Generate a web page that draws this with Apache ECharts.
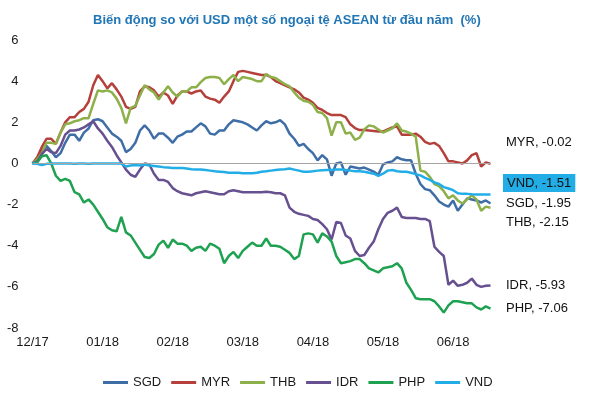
<!DOCTYPE html>
<html><head><meta charset="utf-8">
<script src="https://cdn.jsdelivr.net/npm/echarts@6/dist/echarts.min.js"></script>
<style>html,body{margin:0;padding:0;background:#fff}#c{width:600px;height:393px}</style>
</head><body><div id="c"></div>
<script>
// month tick labels (one every 15 trading-day steps)
const monthLabels = ['12/17','01/18','02/18','03/18','04/18','05/18','06/18'];
const seriesNames = ['SGD','MYR','THB','IDR','PHP','VND'];

const SGD = [0,0.1,0.6,0.85,0.6,0.3,0.5,1.0,1.4,1.4,
1.1,1.5,1.7,2.1,2.15,2.05,1.75,1.45,1.3,1.1,
0.55,0.7,1.0,1.6,1.85,1.6,1.2,1.45,1.45,1.25,
1.0,1.3,1.4,1.55,1.55,1.75,1.95,1.8,1.45,1.4,
1.6,1.6,1.9,2.1,2.05,2.0,1.9,1.75,1.6,1.85,
2.05,1.95,2.0,2.1,1.9,1.45,1.2,0.85,0.95,0.7,
0.5,0.15,0.4,0.2,-0.6,0.0,0.05,-0.55,-0.15,-0.2,
-0.25,-0.2,-0.3,-0.4,-0.55,-0.05,0.05,0.1,0.3,0.2,
0.15,0.15,-0.5,-1.0,-1.25,-1.3,-1.55,-1.85,-2.0,-2.1,
-1.8,-2.3,-2.0,-1.7,-1.75,-1.8,-1.9,-1.8,-1.95];

const MYR = [0,0.3,0.8,1.2,1.2,0.95,1.5,2.0,2.25,2.25,
2.5,2.65,3.0,3.8,4.3,4.0,3.65,3.9,3.6,3.25,
2.75,2.65,2.75,3.5,3.75,3.7,3.55,3.25,3.45,3.3,
2.9,3.3,3.5,3.5,3.4,3.5,3.55,3.25,3.15,3.1,
2.95,3.25,3.5,4.0,4.45,4.5,4.45,4.4,4.35,4.3,
4.3,4.2,4.0,3.9,3.8,3.7,3.6,3.45,3.2,3.1,
2.95,2.7,2.6,2.45,2.35,2.35,2.35,2.25,1.9,1.72,
1.62,1.62,1.6,1.58,1.55,1.55,1.65,1.75,1.8,1.4,
1.4,1.4,1.45,1.3,1.05,0.95,1.0,0.85,0.5,0.1,
0.1,0.05,0.0,0.15,0.4,0.5,-0.15,0.05,-0.02];

const THB = [0,0.2,0.5,1.0,1.0,0.95,1.5,1.9,1.95,2.05,
2.1,2.2,2.2,2.9,3.55,3.5,3.55,3.45,3.15,2.7,
1.95,2.7,2.8,3.3,3.8,3.6,3.45,3.1,3.45,3.75,
3.45,3.25,3.5,3.5,3.7,3.7,3.95,4.15,4.2,4.2,
4.15,3.85,4.1,4.3,4.0,4.2,4.15,4.1,4.0,4.0,
4.35,4.2,4.15,4.0,3.85,3.75,3.45,3.2,3.05,3.0,
2.85,2.5,2.45,2.2,1.35,2.0,2.0,1.45,1.5,1.15,
1.25,1.65,1.85,1.8,1.65,1.5,1.6,1.7,1.95,1.6,
1.55,1.45,1.3,-0.35,-0.4,-0.65,-1.0,-1.1,-1.35,-1.7,
-1.55,-1.8,-1.95,-1.75,-1.55,-1.75,-2.3,-2.1,-2.15];

const IDR = [0,0.1,0.45,0.7,0.55,0.5,0.85,1.4,1.6,1.6,
1.65,1.75,1.9,2.05,1.7,1.45,1.1,0.8,0.4,0.05,
-0.3,-0.55,-0.65,-0.3,0.0,-0.05,-0.5,-0.8,-0.8,-0.9,
-1.2,-1.35,-1.45,-1.5,-1.55,-1.45,-1.4,-1.35,-1.4,-1.45,
-1.5,-1.5,-1.35,-1.3,-1.35,-1.4,-1.4,-1.4,-1.4,-1.4,
-1.38,-1.4,-1.45,-1.45,-1.55,-2.15,-2.35,-2.45,-2.5,-2.55,
-2.7,-2.75,-2.95,-3.2,-3.7,-2.85,-2.9,-3.5,-3.65,-4.25,
-4.5,-4.45,-4.1,-3.8,-3.2,-2.7,-2.4,-2.3,-2.15,-2.6,
-2.65,-2.65,-2.65,-2.7,-2.7,-2.8,-4.05,-4.3,-4.5,-5.9,
-5.7,-5.95,-5.9,-5.8,-5.6,-5.9,-6.0,-5.95,-5.93];

const PHP = [0,0.05,0.35,0.4,0.0,-0.6,-0.85,-0.75,-0.85,-1.4,
-1.5,-1.9,-1.75,-2.0,-2.35,-2.7,-3.1,-3.25,-3.3,-2.6,
-3.35,-3.5,-3.85,-4.2,-4.55,-4.6,-4.4,-3.95,-3.75,-4.1,
-3.7,-3.9,-3.9,-4.0,-4.25,-4.1,-4.05,-4.25,-3.9,-4.0,
-4.15,-4.85,-4.5,-4.3,-4.6,-4.25,-4.05,-3.85,-4.0,-4.0,
-3.65,-4.0,-4.0,-4.05,-4.2,-4.35,-4.65,-4.5,-3.45,-3.4,
-3.45,-3.85,-3.4,-3.55,-3.8,-4.5,-4.85,-4.8,-4.75,-4.65,
-4.65,-4.85,-5.1,-5.2,-5.3,-5.1,-5.05,-5.0,-4.85,-5.1,
-5.8,-6.15,-6.55,-6.6,-6.6,-6.6,-6.7,-6.95,-7.25,-6.9,
-6.7,-6.7,-6.75,-6.8,-6.8,-7.0,-7.1,-6.95,-7.06];

const VND = [0,-0.02,-0.08,-0.02,0,0,0,0,0,-0.02,
0,0,-0.02,0,0,0,0,0,0,0,
-0.15,-0.1,-0.08,-0.1,-0.05,-0.1,-0.12,-0.15,-0.18,-0.2,
-0.22,-0.22,-0.22,-0.25,-0.28,-0.3,-0.3,-0.32,-0.35,-0.38,
-0.4,-0.42,-0.45,-0.45,-0.45,-0.48,-0.48,-0.48,-0.45,-0.4,
-0.38,-0.35,-0.32,-0.3,-0.28,-0.25,-0.3,-0.35,-0.4,-0.4,
-0.38,-0.35,-0.33,-0.32,-0.32,-0.3,-0.3,-0.32,-0.35,-0.38,
-0.38,-0.4,-0.45,-0.5,-0.6,-0.5,-0.35,-0.32,-0.38,-0.4,
-0.4,-0.45,-0.52,-0.58,-0.7,-0.8,-0.92,-1.0,-1.15,-1.22,
-1.3,-1.45,-1.48,-1.48,-1.5,-1.51,-1.51,-1.51,-1.51];

const seriesValues = [SGD, MYR, THB, IDR, PHP, VND];

// styling
const colors = {SGD:'#3f6ea7', MYR:'#b5403b', THB:'#8db04a', IDR:'#67508f', PHP:'#1ea150', VND:'#22ade6'};
const labelOffsets = {MYR:[7.5,-21], VND:[4.5,-11.5], SGD:[7.5,0], THB:[7.5,15], IDR:[7.5,0], PHP:[7.5,0]};
const FONT = 'Arial, "Liberation Sans", sans-serif';
const TXT = '#1a1a1a';

const chart = echarts.init(document.getElementById('c'), null, {renderer:'canvas'});
chart.setOption({
  animation: false,
  backgroundColor: '#fff',
  title: {
    text: 'Biến động so với USD một số ngoại tệ ASEAN từ đầu năm  (%)',
    left: 88, top: 9,
    textStyle: {fontFamily: FONT, fontSize: 13, fontWeight: 'bold', color: '#2176b5'}
  },
  legend: {
    data: seriesNames, left: 98, top: 371,
    icon: 'rect', itemWidth: 25, itemHeight: 3, itemGap: 10,
    textStyle: {fontFamily: FONT, fontSize: 13, color: TXT}
  },
  grid: {left: 32.5, top: 40, right: 109.5, bottom: 65},
  xAxis: {
    type: 'value', min: 0, max: 98, interval: 15,
    axisLine: {show: false}, axisTick: {show: false}, splitLine: {show: false},
    axisLabel: {margin: 8, fontSize: 13, color: TXT, fontFamily: FONT,
      formatter: v => (v % 15 === 0 && monthLabels[v / 15]) ? monthLabels[v / 15] : ''}
  },
  yAxis: {
    type: 'value', min: -8, max: 6, interval: 2,
    axisLine: {show: false}, axisTick: {show: false}, splitLine: {show: false},
    axisLabel: {margin: 14, fontSize: 13, color: TXT, fontFamily: FONT}
  },
  series: seriesNames.map((name, k) => {
    const s = {
      name, type: 'line', showSymbol: false, symbol: 'none',
      data: seriesValues[k].map((v, i) => [i, v]),
      lineStyle: {width: 2.5, color: colors[name]},
      itemStyle: {color: colors[name]},
      endLabel: {
        show: true, offset: labelOffsets[name],
        fontFamily: FONT, fontSize: 13, color: '#111',
        formatter: p => p.seriesName + ', ' + p.value[1].toFixed(2),
        ...(name === 'VND' ? {backgroundColor: '#22ade6', padding: [3, 4, 2, 4]} : {})
      }
    };
    if (k === 0) {
      s.markLine = {silent: true, symbol: 'none', label: {show: false},
        lineStyle: {color: '#a6a6a6', width: 1, type: 'solid'}, data: [{yAxis: 0}]};
    }
    return s;
  })
});
</script></body></html>
